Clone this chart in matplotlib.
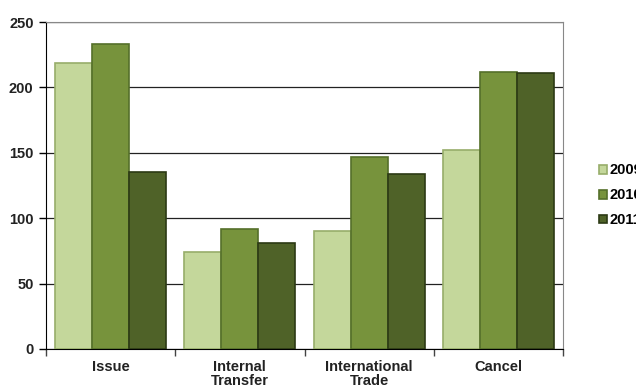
import numpy as np
import matplotlib.pyplot as plt

categories = ["Issue", "Internal\nTransfer", "International\nTrade", "Cancel"]
years = ["2009", "2010", "2011"]
v2009 = [219, 74, 90, 152]
v2010 = [233, 92, 147, 212]
v2011 = [135, 81, 134, 211]

colors = ["#c4d79b", "#77933c", "#4f6228"]
edges = ["#97ad6a", "#55702a", "#2c3a14"]

plt.rcParams.update({
    "font.family": "Liberation Sans",
    "font.weight": "bold",
    "font.size": 10.5,
})

fig = plt.figure(figsize=(6.36, 3.85), dpi=100)
ax = fig.add_axes([46/636, 36/385, 517/636, 327/385])

x = np.arange(len(categories))
w = 0.286
for i, (vals, c, e, yr) in enumerate(zip([v2009, v2010, v2011], colors, edges, years)):
    ax.bar(x + (i - 1) * w, vals, width=w, color=c, edgecolor=e, linewidth=1.2,
           label=yr, zorder=3)

ax.set_xlim(-0.5, 3.5)
ax.set_ylim(0, 250)
ax.set_yticks(range(0, 251, 50))
ax.yaxis.grid(True, color="#222222", linewidth=0.9, zorder=0)

ax.set_xticks(x)
ax.set_xticklabels(categories, fontweight="bold", color="#222222", linespacing=1.0)
ax.set_xticks(np.arange(-0.5, 4.0, 1.0), minor=True)
ax.tick_params(axis="x", which="major", length=0, pad=8)
ax.tick_params(axis="x", which="minor", length=5, width=1, color="#444444")
ax.tick_params(axis="y", length=5, width=1, pad=4, labelcolor="#222222")
for lbl in ax.get_yticklabels():
    lbl.set_fontweight("bold")

ax.spines["left"].set_color("black")
ax.spines["bottom"].set_color("black")
ax.spines["top"].set_color("#888888")
ax.spines["right"].set_color("#888888")

ax.legend(loc="center left", bbox_to_anchor=(1.045, 0.47), frameon=False,
          handlelength=0.55, handleheight=0.55, handletextpad=0.15,
          labelspacing=0.75, fontsize=10.5)

fig.savefig("out.png", dpi=100)
